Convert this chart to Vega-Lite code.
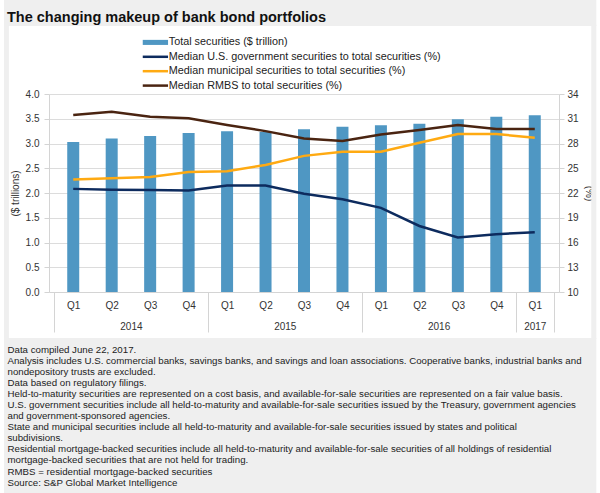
{
  "$schema": "https://vega.github.io/schema/vega-lite/v6.json",
  "width": 510,
  "height": 198,
  "autosize": {"type": "none"},
  "padding": {"left": 49, "top": 94, "right": 41, "bottom": 201},
  "background": "white",
  "config": {
    "font": "Liberation Sans",
    "view": {"stroke": null},
    "axis": {
      "labelFontSize": 10,
      "labelColor": "#333333",
      "titleFontSize": 10,
      "titleFontWeight": "normal",
      "titleColor": "#333333",
      "gridColor": "#dcdcdc",
      "domainColor": "#d4d4d4",
      "tickColor": "#d4d4d4"
    }
  },
  "title": {
    "text": "The changing makeup of bank bond portfolios",
    "anchor": "start",
    "frame": "group",
    "fontSize": 14.5,
    "fontWeight": "bold",
    "color": "#111111",
    "dx": -42,
    "dy": 34,
    "zindex": 1
  },
  "data": {
    "values": [
      {"i": 0, "period": "2014 Q1", "total": 3.03, "gov": 22.5, "muni": 23.65, "rmbs": 31.45},
      {"i": 1, "period": "2014 Q2", "total": 3.10, "gov": 22.4, "muni": 23.8, "rmbs": 31.85},
      {"i": 2, "period": "2014 Q3", "total": 3.15, "gov": 22.35, "muni": 23.95, "rmbs": 31.25},
      {"i": 3, "period": "2014 Q4", "total": 3.21, "gov": 22.3, "muni": 24.55, "rmbs": 31.05},
      {"i": 4, "period": "2015 Q1", "total": 3.25, "gov": 22.9, "muni": 24.65, "rmbs": 30.25},
      {"i": 5, "period": "2015 Q2", "total": 3.23, "gov": 22.9, "muni": 25.4, "rmbs": 29.5},
      {"i": 6, "period": "2015 Q3", "total": 3.29, "gov": 21.9, "muni": 26.5, "rmbs": 28.6},
      {"i": 7, "period": "2015 Q4", "total": 3.34, "gov": 21.25, "muni": 27.0, "rmbs": 28.3},
      {"i": 8, "period": "2016 Q1", "total": 3.37, "gov": 20.2, "muni": 27.0, "rmbs": 29.1},
      {"i": 9, "period": "2016 Q2", "total": 3.40, "gov": 18.0, "muni": 28.1, "rmbs": 29.65},
      {"i": 10, "period": "2016 Q3", "total": 3.49, "gov": 16.6, "muni": 29.15, "rmbs": 30.25},
      {"i": 11, "period": "2016 Q4", "total": 3.54, "gov": 17.0, "muni": 29.15, "rmbs": 29.75},
      {"i": 12, "period": "2017 Q1", "total": 3.57, "gov": 17.25, "muni": 28.7, "rmbs": 29.75}
    ]
  },
  "layer": [
    {
      "data": {"values": [{}]},
      "mark": {"type": "rect", "fill": "#efefef"},
      "encoding": {
        "x": {"datum": -1.8, "type": "quantitative", "scale": {"domain": [-0.5, 12.5], "nice": false, "zero": false}, "axis": null},
        "x2": {"datum": 13.6},
        "y": {"datum": 6.0, "type": "quantitative", "scale": {"domain": [0, 4], "nice": false}, "axis": null},
        "y2": {"datum": 5.374}
      }
    },
    {
      "data": {"values": [{}]},
      "mark": {"type": "rect", "fill": "#efefef"},
      "encoding": {
        "x": {"datum": -1.8, "type": "quantitative", "scale": {"domain": [-0.5, 12.5], "nice": false, "zero": false}, "axis": null},
        "x2": {"datum": 13.6},
        "y": {"datum": -0.929, "type": "quantitative", "scale": {"domain": [0, 4], "nice": false}, "axis": null},
        "y2": {"datum": -4.3}
      }
    },
    {
      "data": {"values": [{}]},
      "mark": {"type": "rect", "fill": "#efefef"},
      "encoding": {
        "x": {"datum": -1.8, "type": "quantitative", "scale": {"domain": [-0.5, 12.5], "nice": false, "zero": false}, "axis": null},
        "x2": {"datum": -1.673},
        "y": {"datum": 5.4, "type": "quantitative", "scale": {"domain": [0, 4], "nice": false}, "axis": null},
        "y2": {"datum": -0.95}
      }
    },
    {
      "data": {"values": [{}]},
      "mark": {"type": "rect", "fill": "#efefef"},
      "encoding": {
        "x": {"datum": 13.469, "type": "quantitative", "scale": {"domain": [-0.5, 12.5], "nice": false, "zero": false}, "axis": null},
        "x2": {"datum": 13.6},
        "y": {"datum": 5.4, "type": "quantitative", "scale": {"domain": [0, 4], "nice": false}, "axis": null},
        "y2": {"datum": -0.95}
      }
    },
    {
      "mark": {"type": "bar", "width": 12},
      "encoding": {
        "x": {
          "field": "i",
          "type": "quantitative",
          "scale": {"domain": [-0.5, 12.5], "nice": false, "zero": false},
          "axis": {
            "orient": "bottom",
            "values": [0, 1, 2, 3, 4, 5, 6, 7, 8, 9, 10, 11, 12],
            "labelExpr": "'Q' + ((datum.value % 4) + 1)",
            "ticks": false,
            "tickSize": 0,
            "grid": false,
            "domain": true,
            "labelPadding": 8,
            "labelFlush": false,
            "labelOverlap": false,
            "title": null
          }
        },
        "y": {
          "field": "total",
          "type": "quantitative",
          "scale": {"domain": [0, 4], "nice": false},
          "axis": {
            "orient": "left",
            "values": [0, 0.5, 1, 1.5, 2, 2.5, 3, 3.5, 4],
            "format": ".1f",
            "title": "($ trillions)",
            "grid": true,
            "tickSize": 5,
            "labelPadding": 5,
            "titlePadding": 5,
            "domain": true
          }
        },
        "color": {
          "datum": "Total securities ($ trillion)",
          "scale": {
            "domain": [
              "Total securities ($ trillion)",
              "Median U.S. government securities to total securities (%)",
              "Median municipal securities to total securities (%)",
              "Median RMBS to total securities (%)"
            ],
            "range": ["#4f97c3", "#0d2b5e", "#ffaa12", "#4a2411"]
          },
          "legend": {
            "orient": "none",
            "legendX": 101,
            "legendY": -57,
            "title": null,
            "symbolType": "stroke",
            "symbolSize": 640,
            "symbolStrokeWidth": 2.5,
            "labelFontSize": 10.8,
            "labelColor": "#222222",
            "labelLimit": 0,
            "labelOffset": 8,
            "rowPadding": 2.4,
            "encode": {
              "symbols": {
                "update": {
                  "shape": {"signal": "datum.value === 'Total securities ($ trillion)' ? 'M-1,-0.2H1V0.2H-1Z' : 'stroke'"},
                  "stroke": {"scale": "color", "field": "value"},
                  "fill": {"scale": "color", "field": "value"},
                  "strokeWidth": {"signal": "datum.value === 'Total securities ($ trillion)' ? 0 : 2.5"}
                }
              }
            }
          }
        }
      }
    },
    {
      "mark": {"type": "line", "strokeWidth": 2.5},
      "encoding": {
        "x": {
          "field": "i",
          "type": "quantitative",
          "scale": {"domain": [-0.5, 12.5], "nice": false, "zero": false},
          "axis": {
            "orient": "bottom",
            "values": [1.5, 5.5, 9.5, 12],
            "labelExpr": "datum.value < 4 ? '2014' : datum.value < 8 ? '2015' : datum.value < 12 ? '2016' : '2017'",
            "ticks": false,
            "tickSize": 0,
            "grid": false,
            "domain": false,
            "labelPadding": 29,
            "labelFlush": false,
            "labelOverlap": false,
            "title": null
          }
        },
        "y": {
          "field": "gov",
          "type": "quantitative",
          "scale": {"domain": [10, 34], "nice": false, "zero": false},
          "axis": {"orient": "right", "values": [10, 13, 16, 19, 22, 25, 28, 31, 34], "grid": false, "tickSize": 5, "labelPadding": 3, "title": "(%)", "titlePadding": 5, "domain": true}
        },
        "color": {"datum": "Median U.S. government securities to total securities (%)"}
      }
    },
    {
      "mark": {"type": "line", "strokeWidth": 2.5},
      "encoding": {
        "x": {
          "field": "i",
          "type": "quantitative",
          "scale": {"domain": [-0.5, 12.5], "nice": false, "zero": false},
          "axis": {
            "orient": "bottom",
            "values": [-0.5, 3.5, 7.5, 11.5, 12.5],
            "labels": false,
            "ticks": true,
            "tickSize": 40,
            "grid": false,
            "domain": false,
            "zindex": 1,
            "title": [
              "Data compiled June 22, 2017.",
              "Analysis includes U.S. commercial banks, savings banks, and savings and loan associations. Cooperative banks, industrial banks and",
              "nondepository trusts are excluded.",
              "Data based on regulatory filings.",
              "Held-to-maturity securities are represented on a cost basis, and available-for-sale securities are represented on a fair value basis.",
              "U.S. government securities include all held-to-maturity and available-for-sale securities issued by the Treasury, government agencies",
              "and government-sponsored agencies.",
              "State and municipal securities include all held-to-maturity and available-for-sale securities issued by states and political",
              "subdivisions.",
              "Residential mortgage-backed securities include all held-to-maturity and available-for-sale securities of all holdings of residential",
              "mortgage-backed securities that are not held for trading.",
              "RMBS = residential mortgage-backed securities",
              "Source: S&P Global Market Intelligence"
            ],
            "titleAnchor": "start",
            "titleAlign": "left",
            "titleBaseline": "top",
            "titleX": -42,
            "titleY": 52,
            "titleLineHeight": 11.1,
            "titleFontSize": 9.7,
            "titleColor": "#222222"
          }
        },
        "y": {
          "field": "muni",
          "type": "quantitative",
          "scale": {"domain": [10, 34], "nice": false, "zero": false},
          "axis": null
        },
        "color": {"datum": "Median municipal securities to total securities (%)"}
      }
    },
    {
      "mark": {"type": "line", "strokeWidth": 2.5},
      "encoding": {
        "x": {
          "field": "i",
          "type": "quantitative",
          "scale": {"domain": [-0.5, 12.5], "nice": false, "zero": false},
          "axis": null
        },
        "y": {
          "field": "rmbs",
          "type": "quantitative",
          "scale": {"domain": [10, 34], "nice": false, "zero": false},
          "axis": null
        },
        "color": {"datum": "Median RMBS to total securities (%)"}
      }
    }
  ],
  "resolve": {"scale": {"y": "independent"}, "axis": {"x": "independent"}}
}
